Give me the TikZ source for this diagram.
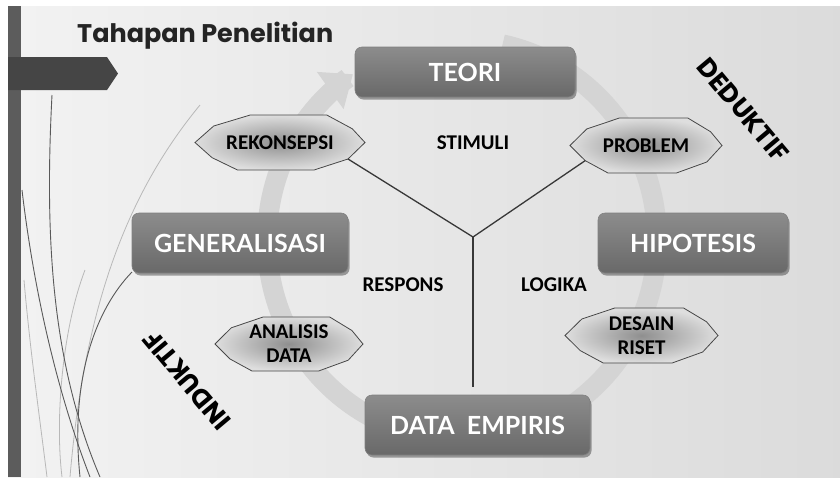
\documentclass[tikz,border=0pt]{standalone}
\usepackage{fontspec}
\setmainfont{Carlito}
\newfontfamily\boxfont{Lato}
\newfontfamily\titfont{Poppins}
\usetikzlibrary{arrows.meta,calc,shadows}
\definecolor{bgL}{gray}{0.95}
\definecolor{bgR}{gray}{0.86}
\definecolor{barc}{gray}{0.36}
\definecolor{banc}{gray}{0.27}
\definecolor{boxT}{gray}{0.55}
\definecolor{boxB}{gray}{0.41}
\definecolor{boxE}{gray}{0.50}
\definecolor{octIn}{gray}{0.56}
\definecolor{octOut}{gray}{0.87}
\definecolor{octE}{gray}{0.28}
\definecolor{arcc}{gray}{0.83}
\definecolor{ylc}{gray}{0.22}
\definecolor{darkcurve}{gray}{0.35}
\definecolor{lightcurve}{gray}{0.72}
\definecolor{titc}{gray}{0.14}
\newcommand{\octag}[6]{%
  \shadedraw[draw=octE, line width=0.8pt, inner color=octIn, outer color=octOut, shift={(#2,#3)}]
    ({-#4},0) -- ({-0.78*#4},{-0.6*#5}) -- ({-0.35*#4},{-#5}) -- ({0.55*#4},{-#5})
    -- ({0.85*#4},{-0.5*#5}) -- ({#4},0) -- ({0.8*#4},{0.6*#5}) -- ({0.4*#4},{#5})
    -- ({-0.5*#4},{#5}) -- ({-0.8*#4},{0.55*#5}) -- cycle;
  \node[octtext] (#1) at (#2,#3) {#6};
  \coordinate (#1-se) at ($(#1.center)+({0.8*#4},{0.6*#5})$);
  \coordinate (#1-sw) at ($(#1.center)+({-0.8*#4},{0.55*#5})$);
}
\begin{document}
\begin{tikzpicture}[x=1pt,y=-1pt,
  boxnode/.style={rounded corners=7pt, top color=boxT, bottom color=boxB, draw=boxE,
    line width=0.6pt, text=white, font=\boxfont\bfseries\fontsize{25}{28}\selectfont, inner sep=0pt,
    drop shadow={shadow xshift=1.5pt, shadow yshift=-2.5pt, opacity=0.35, fill=black}},
  octtext/.style={font=\bfseries\fontsize{21}{24}\selectfont, text=black, align=center, inner sep=0pt},
  lab/.style={font=\bfseries\fontsize{21}{24}\selectfont, text=black, inner sep=0pt},
  bigword/.style={font=\titfont\bfseries\fontsize{26}{30}\selectfont, text=black, inner sep=0pt},
  yline/.style={draw=ylc, line width=1.3pt},
  dcurve/.style={draw=darkcurve, line width=0.9pt},
  lcurve/.style={draw=lightcurve, line width=0.8pt}]
\useasboundingbox (0,0) rectangle (840,477);
\fill[white] (0,0) rectangle (840,477);
\shade[left color=bgL, right color=bgR] (8,6) rectangle (840,477);
% decorative curves at left
\draw[lcurve] (200,105) .. controls (130,190) and (85,300) .. (70,477);
\draw[lcurve] (85,270) .. controls (62,330) and (55,420) .. (62,477);
\draw[lcurve] (24,280) .. controls (30,350) and (40,420) .. (47,477);
\draw[dcurve] (52,95) .. controls (45,230) and (50,360) .. (100,477);
\draw[dcurve] (22,190) .. controls (35,300) and (60,400) .. (90,477);
\draw[dcurve] (132,272) .. controls (95,310) and (70,380) .. (80,477);
% left bar and banner
\fill[barc] (8,6) rectangle (21,477);
\fill[banc] (8,57) -- (107,57) -- (118,73.5) -- (107,90) -- (8,90) -- cycle;
% title
\node[anchor=base west, font=\titfont\bfseries\fontsize{25.5}{30}\selectfont, text=titc, inner sep=0pt] (title) at (77,42) {Tahapan Penelitian};
% big circular arrow
\draw[draw=arcc, line width=20pt, -{Triangle[width=44pt,length=28pt]}]
  plot[domain=-78:236, samples=160] ({462+195*cos(\x)},{240+200*sin(\x)});
% Y lines
\coordinate (c) at (473,237);
\coordinate (vend) at (473,387);
% boxes
\node[boxnode, minimum width=220pt, minimum height=50pt] (teori) at (465,72) {TEORI};
\node[boxnode, minimum width=216pt, minimum height=60pt] (gen) at (240,243) {GENERALISASI};
\node[boxnode, minimum width=190pt, minimum height=60pt] (hip) at (693,243) {HIPOTESIS};
\node[boxnode, minimum width=225pt, minimum height=60pt] (data) at (477.5,425) {DATA\ \ EMPIRIS};
% octagons
\octag{rek}{280}{142.5}{85}{27.5}{REKONSEPSI}
\octag{prob}{646}{145.5}{76}{27.5}{PROBLEM}
\octag{ana}{289}{344}{74}{27}{ANALISIS\\DATA}
\octag{des}{641.5}{335.5}{76.5}{27.5}{DESAIN\\RISET}
\draw[yline] (rek-se) -- (c);
\draw[yline] (prob-sw) -- (c);
\draw[yline] (c) -- (vend);
% labels
\node[lab] (stim) at (473,143) {STIMULI};
\node[lab] (resp) at (403,285) {RESPONS};
\node[lab] (logi) at (554,285) {LOGIKA};
\node[bigword, rotate=-50] (ded) at (743,110) {DEDUKTIF};
\node[bigword, rotate=130] (ind) at (187,380) {INDUKTIF};
\end{tikzpicture}
\end{document}
